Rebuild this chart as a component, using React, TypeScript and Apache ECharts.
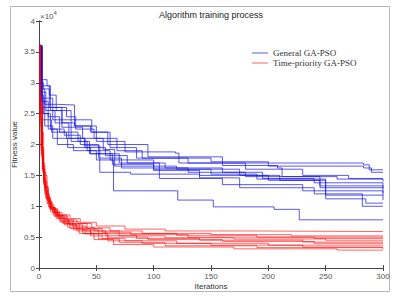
import React, { useEffect, useRef } from "react";
import * as echarts from "echarts";

const titleText = "Algorithm training process";
const xName = "Iterations";
const yName = "Fitness value";
const legendNames = ["General GA-PSO", "Time-priority GA-PSO"];
const xTicks = [0, 50, 100, 150, 200, 250, 300];
const yTicks = [0, 0.5, 1, 1.5, 2, 2.5, 3, 3.5, 4];

// General GA-PSO runs: [iteration, fitness (x10^4)]
const blue1 = [[0,3.62],[1,3.05],[7,2.95],[9,2.6],[20,2.35],[31,2.3],[50,2.05],[75,1.88],[119,1.86],[122,1.7],[283,1.67],[288,1.59],[300,1.59]];
const blue2 = [[0,3.6],[2,2.75],[12,2.6],[24,2.45],[32,2.25],[48,2.1],[68,1.9],[90,1.78],[150,1.72],[200,1.65],[283,1.62],[290,1.55],[300,1.55]];
const blue3 = [[0,3.58],[1,2.9],[5,2.65],[16,2.64],[31,2.3],[45,2.2],[60,2.0],[95,1.8],[160,1.66],[208,1.62],[212,1.48],[260,1.44],[300,1.4]];
const blue4 = [[0,3.6],[2,2.85],[6,2.55],[14,2.35],[26,2.1],[40,1.95],[58,1.82],[77,1.7],[110,1.62],[160,1.55],[195,1.45],[240,1.38],[300,1.3]];
const blue5 = [[0,3.55],[1,2.8],[4,2.5],[10,2.25],[22,2.15],[36,2.0],[52,1.78],[72,1.62],[130,1.55],[180,1.48],[245,1.3],[300,1.21]];
const blue6 = [[0,3.6],[2,2.7],[8,2.45],[18,2.2],[34,2.05],[44,1.85],[64,1.68],[100,1.6],[150,1.52],[190,1.44],[250,1.18],[300,1.1]];
const blue7 = [[0,3.6],[1,2.95],[10,2.55],[20,2.28],[38,2.1],[56,1.92],[66,1.65],[120,1.6],[175,1.5],[210,1.42],[250,1.12],[285,1.05],[300,1.05]];
const blue8 = [[0,3.58],[3,2.6],[12,2.4],[28,2.05],[42,1.9],[62,1.75],[100,1.58],[140,1.46],[175,1.3],[240,1.2],[282,1.0],[300,1.0]];
const blue9 = [[0,3.6],[2,2.5],[8,2.25],[16,2.0],[30,1.9],[50,1.75],[65,1.25],[121,1.1],[152,0.99],[205,0.95],[227,0.78],[300,0.78]];
const blue10 = [[0,3.6],[1,2.7],[5,2.3],[12,2.1],[25,1.95],[45,1.85],[70,1.7],[105,1.45],[160,1.35],[230,1.25],[300,1.18]];
const blue11 = [[0,3.6],[2,3.0],[4,2.9],[9,2.8],[15,2.55],[28,2.4],[46,2.2],[62,1.95],[85,1.78],[130,1.7],[180,1.6],[230,1.5],[270,1.45],[300,1.45]];
const blue12 = [[0,3.6],[3,2.4],[11,2.2],[24,2.1],[40,1.98],[53,1.55],[80,1.52],[140,1.5],[200,1.42],[245,1.33],[300,1.29]];

// Time-priority GA-PSO runs: [iteration, fitness (x10^4)]
const red1 = [[0,3.6],[1,2.6],[2,2.0],[3,1.6],[5,1.3],[7,1.12],[10,0.98],[14,0.9],[20,0.86],[27,0.8],[36,0.74],[50,0.68],[75,0.63],[110,0.6],[180,0.59],[300,0.58]];
const red2 = [[0,3.55],[1,2.8],[2,2.2],[4,1.55],[6,1.25],[8,1.08],[11,0.95],[16,0.86],[24,0.78],[33,0.72],[46,0.65],[62,0.6],[90,0.56],[150,0.54],[220,0.52],[300,0.52]];
const red3 = [[0,3.6],[1,2.5],[3,1.75],[4,1.45],[6,1.2],[9,1.02],[13,0.92],[18,0.84],[25,0.75],[35,0.66],[48,0.6],[70,0.56],[120,0.53],[190,0.5],[300,0.5]];
const red4 = [[0,3.62],[1,2.4],[2,1.9],[4,1.4],[7,1.1],[10,0.95],[15,0.85],[22,0.78],[30,0.72],[42,0.64],[55,0.58],[80,0.54],[130,0.5],[240,0.48],[300,0.48]];
const red5 = [[0,3.58],[1,2.6],[3,1.65],[5,1.3],[8,1.05],[12,0.9],[17,0.8],[26,0.7],[38,0.62],[52,0.56],[70,0.52],[110,0.49],[170,0.47],[250,0.45],[300,0.45]];
const red6 = [[0,3.6],[1,2.3],[2,1.85],[4,1.38],[6,1.15],[9,0.98],[14,0.86],[20,0.76],[29,0.68],[41,0.6],[58,0.53],[85,0.48],[140,0.45],[230,0.42],[300,0.42]];
const red7 = [[0,3.6],[1,2.7],[3,1.7],[5,1.32],[8,1.08],[11,0.96],[16,0.82],[23,0.72],[32,0.64],[45,0.56],[60,0.5],[95,0.46],[160,0.43],[240,0.4],[300,0.4]];
const red8 = [[0,3.57],[1,2.45],[2,1.95],[4,1.5],[7,1.15],[10,0.98],[14,0.84],[21,0.72],[30,0.62],[40,0.55],[55,0.48],[75,0.44],[120,0.4],[200,0.37],[300,0.36]];
const red9 = [[0,3.6],[1,2.55],[3,1.6],[5,1.25],[7,1.05],[10,0.92],[15,0.8],[22,0.7],[33,0.6],[45,0.52],[60,0.44],[90,0.4],[150,0.37],[230,0.34],[300,0.34]];
const red10 = [[0,3.6],[1,2.35],[2,1.8],[4,1.35],[6,1.12],[9,0.96],[13,0.84],[19,0.74],[27,0.64],[38,0.56],[52,0.47],[70,0.41],[110,0.36],[190,0.33],[300,0.31]];
const red11 = [[0,3.6],[1,2.65],[3,1.55],[5,1.2],[8,1.0],[12,0.88],[18,0.76],[25,0.66],[35,0.56],[48,0.46],[65,0.38],[100,0.34],[170,0.31],[260,0.29],[300,0.29]];

const blueRuns = [blue1, blue2, blue3, blue4, blue5, blue6, blue7, blue8, blue9, blue10, blue11, blue12];
const redRuns = [red1, red2, red3, red4, red5, red6, red7, red8, red9, red10, red11];

const BLUE = "rgba(20,20,225,0.7)";
const RED = "rgba(250,0,0,0.6)";
const AXIS = "#444";
const FONT = "Liberation Sans, Arial, sans-serif";

export default function App() {
  const ref = useRef<HTMLDivElement>(null);
  useEffect(() => {
    if (!ref.current) return;
    const chart = echarts.init(ref.current, null, { renderer: "svg" });
    const mk = (data: number[][], name: string, color: string) => ({
      type: "line",
      name,
      data,
      step: "end",
      symbol: "none",
      showSymbol: false,
      xAxisIndex: 0,
      yAxisIndex: 0,
      lineStyle: { color, width: 1 },
      itemStyle: { color },
      emphasis: { disabled: true },
    });
    const series = [
      ...blueRuns.map((d) => mk(d, legendNames[0], BLUE)),
      ...redRuns.map((d) => mk(d, legendNames[1], RED)),
    ];
    const tickLabel = { fontSize: 8, color: "#555", fontFamily: FONT };
    chart.setOption({
      animation: false,
      backgroundColor: "#ffffff",
      grid: { left: 39, top: 21, right: 16, bottom: 28, containLabel: false, outerBoundsMode: "none" },
      legend: {
        data: legendNames,
        orient: "vertical",
        left: 247,
        top: 43,
        icon: "rect",
        itemWidth: 16,
        itemHeight: 1,
        itemGap: 0,
        selectedMode: false,
        textStyle: { fontFamily: "Liberation Serif, Times New Roman, serif", fontSize: 9, color: "#333", lineHeight: 10 },
      },
      xAxis: [
        {
          type: "value",
          min: 0,
          max: 300,
          interval: 50,
          name: xName,
          nameLocation: "middle",
          nameGap: 14,
          nameMoveOverlap: false,
          nameTextStyle: { fontSize: 8, color: "#333", fontFamily: FONT },
          axisLine: { show: true, lineStyle: { color: AXIS, width: 1 } },
          axisTick: { show: true, inside: true, length: 3, lineStyle: { color: AXIS } },
          axisLabel: { ...tickLabel, margin: 4, formatter: (v: number) => (xTicks.includes(v) ? String(v) : "") },
          splitLine: { show: false },
        },
        {
          type: "value",
          position: "top",
          min: 0,
          max: 300,
          interval: 50,
          axisLine: { show: true, lineStyle: { color: AXIS, width: 1 } },
          axisTick: { show: true, inside: true, length: 3, lineStyle: { color: AXIS } },
          axisLabel: { show: false },
          splitLine: { show: false },
        },
      ],
      yAxis: [
        {
          type: "value",
          min: 0,
          max: 4,
          interval: 0.5,
          name: yName,
          nameLocation: "middle",
          nameGap: 21,
          nameMoveOverlap: false,
          nameTextStyle: { fontSize: 8, color: "#333", fontFamily: FONT },
          axisLine: { show: true, lineStyle: { color: AXIS, width: 1 } },
          axisTick: { show: true, inside: true, length: 3, lineStyle: { color: AXIS } },
          axisLabel: { ...tickLabel, margin: 4, formatter: (v: number) => (yTicks.includes(v) ? String(v) : "") },
          splitLine: { show: false },
        },
        {
          type: "value",
          position: "right",
          min: 0,
          max: 4,
          interval: 0.5,
          axisLine: { show: true, lineStyle: { color: AXIS, width: 1 } },
          axisTick: { show: true, inside: true, length: 3, lineStyle: { color: AXIS } },
          axisLabel: { show: false },
          splitLine: { show: false },
        },
      ],
      graphic: [
        {
          type: "rect",
          shape: { x: 10.5, y: 6.5, width: 379, height: 285 },
          style: { fill: "none", stroke: "#b5b5b5", lineWidth: 1 },
          silent: true,
          z: -1,
        },
        {
          type: "text",
          x: 211,
          y: 15,
          style: {
            text: titleText,
            textAlign: "center",
            textVerticalAlign: "middle",
            fontSize: 9,
            fontFamily: FONT,
            fill: "#222",
          },
        },
        {
          type: "text",
          x: 40,
          y: 16,
          style: {
            text: "×10{sup|4}",
            textVerticalAlign: "middle",
            fontSize: 8,
            fontFamily: FONT,
            fill: "#555",
            rich: { sup: { fontSize: 6, fontFamily: FONT, fill: "#555", verticalAlign: "top", padding: [0, 0, 6, 0] } },
          },
        },
      ],
      series,
    });
    return () => chart.dispose();
  }, []);
  return (
    <div
      ref={ref}
      style={{ position: "absolute", left: 0, top: 0, width: 399, height: 296, background: "#fff" }}
    />
  );
}
